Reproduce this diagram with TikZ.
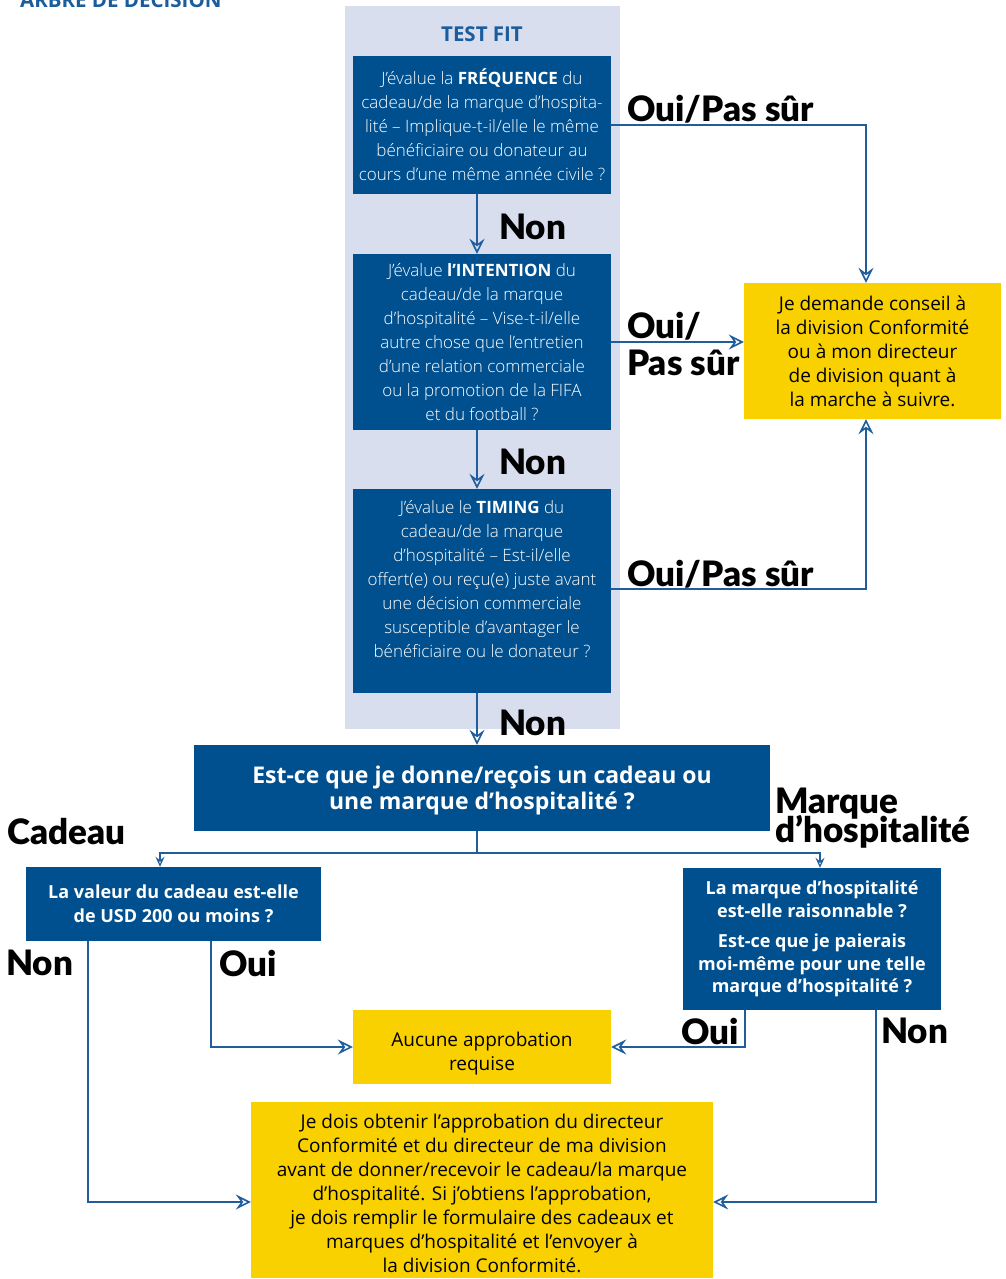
\documentclass[tikz,border=0pt]{standalone}
\usepackage{fontspec}
\setmainfont{Open Sans}
\IfFontExistsTF{Open Sans Light}{\newfontfamily\lightf{Open Sans Light}}{\newfontfamily\lightf{Open Sans}}
\IfFontExistsTF{Lato Black}{\newfontfamily\heavyf{Lato Black}}{%
  \IfFontExistsTF{Open Sans ExtraBold}{\newfontfamily\heavyf{Open Sans ExtraBold}}{\newcommand\heavyf{\normalfont\bfseries}}}
\usetikzlibrary{arrows.meta}
\definecolor{dblue}{HTML}{00508F}
\definecolor{panel}{HTML}{D9DEEE}
\definecolor{ylw}{HTML}{F9D100}
\definecolor{lnblue}{HTML}{1F5D9C}
\definecolor{tblue}{HTML}{1A5C9C}
\newcommand\hb[1]{{\normalfont\bfseries #1}}
\newcommand\tightlines{\lineskiplimit -100pt\relax\lineskip 0pt\relax}
\tikzset{
  bluebox/.style={fill=dblue, text=white, inner sep=0pt, align=center},
  ylwbox/.style={fill=ylw, text=black, inner sep=0pt, align=center},
  line/.style={draw=lnblue, line width=1.8pt},
  conn/.style={line, -{Stealth[open, length=15pt, width=15pt, inset=5.5pt, line width=1.6pt]}},
  connsm/.style={line, -{Stealth[open, length=10pt, width=9pt, inset=3.5pt, line width=1.2pt]}},
  lbl/.style={font=\heavyf\fontsize{35}{37}\selectfont, anchor=west, inner sep=0pt, text=black},
  lightt/.style={font=\lightf\fontsize{17}{24}\selectfont},
  regt/.style={font=\fontsize{19}{24}\selectfont},
  boldt/.style={font=\bfseries\fontsize{18}{24}\selectfont},
  plaintext/.style={inner sep=0pt, align=center, text=black},
}
\begin{document}
\begin{tikzpicture}[x=1pt,y=-1pt]
\useasboundingbox (0,0) rectangle (1006,1279);
\fill[white] (0,0) rectangle (1006,1279);

\node[anchor=base west, inner sep=0pt, text=tblue, font=\bfseries\fontsize{20.5}{22}\selectfont] (title) at (20,8) {ARBRE DE DÉCISION};

\node[fill=panel, minimum width=275pt, minimum height=723pt, inner sep=0pt] (panel) at (482.5,367.5) {};
\node[text=tblue, font=\bfseries\fontsize{20.5}{22}\selectfont, inner sep=0pt] (testfit) at (482,34) {TEST FIT};

\node[bluebox, lightt, minimum width=258pt, minimum height=138pt] (b1) at (482,125)
 {J’évalue la \hb{FRÉQUENCE} du\\cadeau/de la marque d’hospita-\\lité – Implique-t-il/elle le même\\bénéficiaire ou donateur au\\cours d’une même année civile ?};
\node[bluebox, lightt, minimum width=258pt, minimum height=176pt] (b2) at (482,342)
 {J’évalue \hb{l’INTENTION} du\\cadeau/de la marque\\d’hospitalité – Vise-t-il/elle\\autre chose que l’entretien\\d’une relation commerciale\\ou la promotion de la FIFA\\et du football ?};
\node[bluebox, lightt, minimum width=258pt, minimum height=204pt] (b3) at (482,591)
 {J’évalue le \hb{TIMING} du\\cadeau/de la marque\\d’hospitalité – Est-il/elle\\offert(e) ou reçu(e) juste avant\\une décision commerciale\\susceptible d’avantager le\\bénéficiaire ou le donateur ?\\\mbox{}};

\node[ylwbox, regt, minimum width=257pt, minimum height=136pt] (adv) at (872.5,351)
 {Je demande conseil à\\la division Conformité\\ou à mon directeur\\de division quant à\\la marche à suivre.};

\node[bluebox, minimum width=576pt, minimum height=86pt] (main) at (482,788) {};
\node[plaintext, text=white, font=\bfseries\fontsize{23}{26}\selectfont] (maint) at (482,791)
 {Est-ce que je donne/reçois un cadeau ou\\une marque d’hospitalité ?};

\node[bluebox, boldt, minimum width=295pt, minimum height=74pt] (gift) at (173.5,904)
 {La valeur du cadeau est-elle\\de USD 200 ou moins ?};
\node[bluebox, font=\bfseries\fontsize{18}{22.5}\selectfont, minimum width=258pt, minimum height=142pt] (hosp) at (812,939)
 {La marque d’hospitalité\\est-elle raisonnable ?\\[8pt]Est-ce que je paierais\\moi-même pour une telle\\marque d’hospitalité ?};

\node[ylwbox, minimum width=258pt, minimum height=74pt] (auc) at (482,1047) {};
\node[plaintext, regt] (auct) at (482,1054) {Aucune approbation\\requise};
\node[ylwbox, minimum width=462pt, minimum height=176pt] (final) at (482,1190) {};
\node[plaintext, regt] (finalt) at (482,1193)
 {Je dois obtenir l’approbation du directeur\\Conformité et du directeur de ma division\\avant de donner/recevoir le cadeau/la marque\\d’hospitalité. Si j’obtiens l’approbation,\\je dois remplir le formulaire des cadeaux et\\marques d’hospitalité et l’envoyer à\\la division Conformité.};

% labels
\node[lbl] (l1) at (627,109) {Oui/Pas sûr};
\node[lbl] (n1) at (499,227) {Non};
\node[lbl, align=left, font=\heavyf\fontsize{35}{37}\selectfont] (l2) at (627,344) {Oui/\\Pas sûr};
\node[lbl] (n2) at (499,462) {Non};
\node[lbl] (l3) at (627,574) {Oui/Pas sûr};
\node[lbl] (n3) at (499,723) {Non};
\node[lbl] (lcad) at (7,832) {Cadeau};
\node[lbl, align=left, font=\heavyf\fontsize{35}{29}\selectfont\tightlines] (lmar) at (775,818) {Marque\\d’hospitalité};
\node[lbl] (gnon) at (6,963) {Non};
\node[lbl] (goui) at (219,963) {Oui};
\node[lbl] (houi) at (681,1031) {Oui};
\node[lbl] (hnon) at (881,1031) {Non};

% connectors
\draw[conn] ([xshift=-5pt]b1.south) -- ([xshift=-5pt]b2.north);
\draw[conn] ([xshift=-5pt]b2.south) -- ([xshift=-5pt]b3.north);
\draw[conn] ([xshift=-5pt]b3.south) -- ([xshift=-5pt]main.north);
\draw[conn] (b1.east) -| ([xshift=-6.5pt]adv.north);
\draw[conn] (b2.east) -- (b2.east -| adv.west);
\draw[conn] ([yshift=2pt]b3.east) -| ([xshift=-6.5pt]adv.south);

\coordinate (split) at (477,853);
\draw[line] ([xshift=-5pt]main.south) -- (split);
\draw[connsm] (split) -| ([xshift=-13.5pt]gift.north);
\draw[connsm] (split) -| ([xshift=8pt]hosp.north);

\draw[conn] ([xshift=-85.5pt]gift.south) |- ([yshift=-12pt]final.west);
\draw[conn] ([xshift=37.5pt]gift.south) |- (auc.west);
\draw[conn] ([xshift=-67pt]hosp.south) |- (auc.east);
\draw[conn] ([xshift=64pt]hosp.south) |- ([yshift=-12pt]final.east);
\end{tikzpicture}
\end{document}
